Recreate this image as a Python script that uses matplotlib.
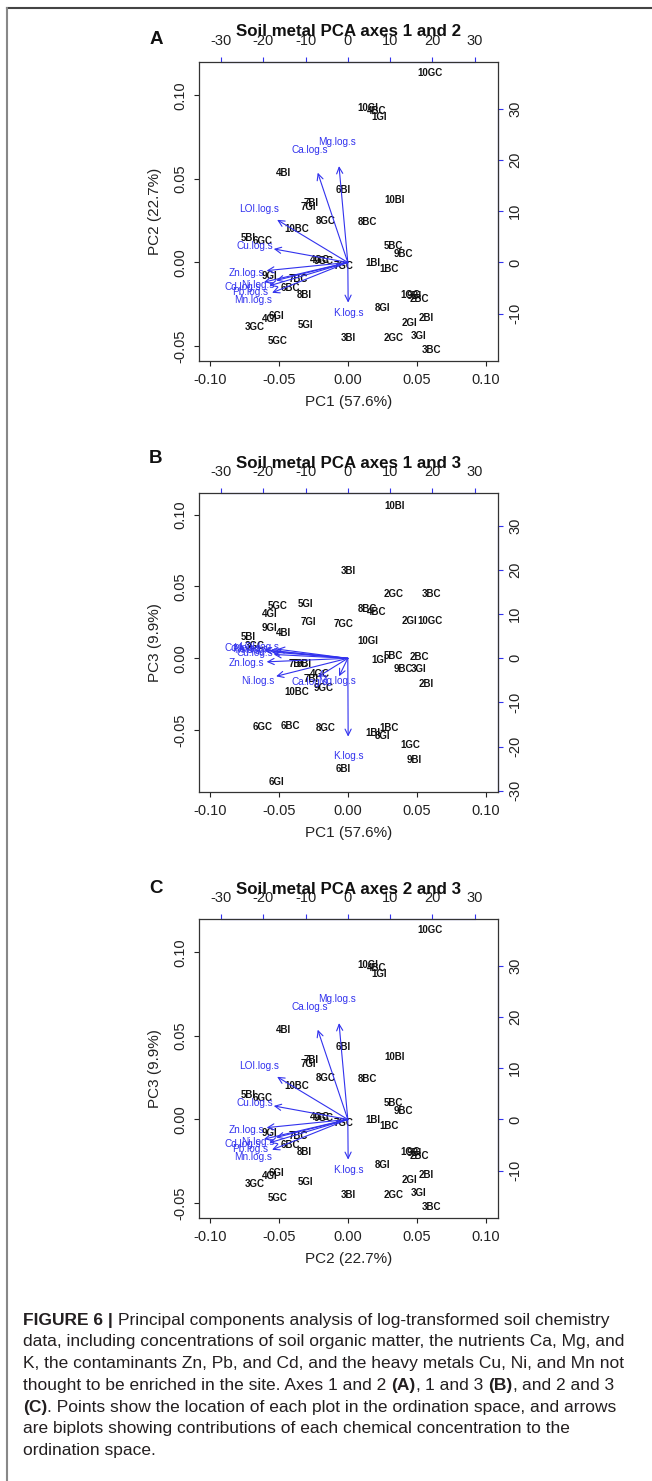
import matplotlib
matplotlib.use('Agg')
import matplotlib.pyplot as plt
from matplotlib.lines import Line2D

plt.rcParams['font.family'] = ['Liberation Sans', 'DejaVu Sans']
plt.rcParams['axes.unicode_minus'] = False

# site scores (PC1, PC2, PC3)
sites = ['1BC', '2BC', '3BC', '4BC', '5BC', '6BC', '7BC', '8BC', '9BC', '10BC',
         '1BI', '2BI', '3BI', '4BI', '5BI', '6BI', '7BI', '8BI', '9BI', '10BI',
         '1GC', '2GC', '3GC', '4GC', '5GC', '6GC', '7GC', '8GC', '9GC', '10GC',
         '1GI', '2GI', '3GI', '4GI', '5GI', '6GI', '7GI', '8GI', '9GI', '10GI']
pc1 = [0.0302, 0.0520, 0.0609, 0.0212, 0.0328, -0.0420, -0.0356, 0.0145, 0.0402, -0.0374,
       0.0180, 0.0568, 0.0000, -0.0470, -0.0720, -0.0030, -0.0266, -0.0317, 0.0480, 0.0342,
       0.0452, 0.0333, -0.0672, -0.0200, -0.0512, -0.0616, -0.0029, -0.0164, -0.0174, 0.0595,
       0.0230, 0.0447, 0.0516, -0.0570, -0.0308, -0.0515, -0.0283, 0.0254, -0.0570, 0.0145]
pc2 = [-0.0040, -0.0220, -0.0525, 0.0908, 0.0098, -0.0150, -0.0102, 0.0240, 0.0052, 0.0198,
       -0.0006, -0.0335, -0.0451, 0.0537, 0.0147, 0.0433, 0.0357, -0.0192, -0.0198, 0.0376,
       -0.0192, -0.0451, -0.0389, 0.0016, -0.0470, 0.0128, -0.0022, 0.0249, 0.0008, 0.1132,
       0.0868, -0.0365, -0.0441, -0.0341, -0.0375, -0.0320, 0.0329, -0.0275, -0.0082, 0.0922]
pc3 = [-0.0486, 0.0011, 0.0444, 0.0324, 0.0018, -0.0468, -0.0042, 0.0340, -0.0074, -0.0236,
       -0.0521, -0.0180, 0.0608, 0.0174, 0.0150, -0.0769, -0.0144, -0.0042, -0.0706, 0.1058,
       -0.0602, 0.0444, 0.0088, -0.0109, 0.0363, -0.0475, 0.0236, -0.0486, -0.0208, 0.0259,
       -0.0012, 0.0261, -0.0074, 0.0308, 0.0379, -0.0857, 0.0254, -0.0537, 0.0213, 0.0120]

# variable loadings (top/right axis units)
variables = ['LOI.log.s', 'Ca.log.s', 'Mg.log.s', 'K.log.s', 'Zn.log.s',
             'Pb.log.s', 'Cd.log.s', 'Cu.log.s', 'Ni.log.s', 'Mn.log.s']
load1 = [-20.9, -8.9, -2.6, 0.1, -24.0, -23.2, -24.8, -21.9, -21.2, -22.4]
load2 = [10.4, 21.9, 23.5, -9.8, -2.0, -5.7, -4.8, 3.3, -4.4, -7.4]
load3 = [2.6, -5.3, -5.1, -22.2, -1.0, 2.2, 2.4, 1.1, -5.1, 1.8]

letters = ['A', 'B', 'C']
titles = ['Soil metal PCA axes 1 and 2', 'Soil metal PCA axes 1 and 3',
          'Soil metal PCA axes 2 and 3']
xlabels = ['PC1 (57.6%)', 'PC1 (57.6%)', 'PC2 (22.7%)']
ylabels = ['PC2 (22.7%)', 'PC3 (9.9%)', 'PC3 (9.9%)']
# panel C in the figure repeats the axis 1/2 scores
xdata = [(pc1, load1), (pc1, load1), (pc1, load1)]
ydata = [(pc2, load2), (pc3, load3), (pc2, load2)]

xticks = [-0.10, -0.05, 0.00, 0.05, 0.10]
yticks = [[-0.05, 0.00, 0.05, 0.10], [-0.05, 0.00, 0.05, 0.10], [-0.05, 0.00, 0.05, 0.10]]
topticks = [-30, -20, -10, 0, 10, 20, 30]
rightticks = [[-10, 0, 10, 20, 30], [-30, -20, -10, 0, 10, 20, 30], [-10, 0, 10, 20, 30]]

W, H = 652, 1481
S = 326.0
BLUE = '#3232ee'
box_top = [62, 493, 919]
box_h = 299
ylims = [(-0.059, 0.120), (-0.093, 0.115), (-0.059, 0.120)]
letter_y = [40, 459, 889]

fig = plt.figure(figsize=(W / 100, H / 100), dpi=100)

for i in range(3):
    ax = fig.add_axes([199 / W, 1 - (box_top[i] + box_h) / H, 299 / W, box_h / H])
    ax.set_xlim(-0.108, 0.109)
    ax.set_ylim(*ylims[i])
    xs, lx = xdata[i]
    ys, ly = ydata[i]

    for s, x, y in zip(sites, xs, ys):
        ax.text(x, y, s, ha='center', va='center', fontsize=7, fontweight='bold', color='#111111')

    for v, a, b in zip(variables, lx, ly):
        ax.annotate('', xy=(0.8 * a / S, 0.8 * b / S), xytext=(0, 0),
                    arrowprops=dict(arrowstyle='->,head_length=0.45,head_width=0.22',
                                    color=BLUE, lw=0.8, shrinkA=0, shrinkB=0))
        ax.text(a / S, b / S, v, ha='center', va='center', fontsize=7.2, color=BLUE)

    ax.set_xticks(xticks, ['%.2f' % t for t in xticks])
    ax.set_yticks(yticks[i], ['%.2f' % t for t in yticks[i]], rotation=90, va='center')
    ax.tick_params(direction='out', length=3.3, width=0.8, labelsize=10.5, pad=5, colors='#222222')
    for sp in ax.spines.values():
        sp.set_linewidth(0.9)
        sp.set_color('#333333')

    top = ax.secondary_xaxis('top', functions=(lambda v: v * S, lambda v: v / S))
    top.set_xticks(topticks, [str(t) for t in topticks])
    top.tick_params(direction='out', length=3.3, width=0.8, color=BLUE,
                    labelcolor='#222222', labelsize=10.5, pad=6.5)
    top.spines['top'].set_color(BLUE)
    top.spines['top'].set_bounds(-30, 30)

    right = ax.secondary_yaxis('right', functions=(lambda v: v * S, lambda v: v / S))
    right.set_yticks(rightticks[i], [str(t) for t in rightticks[i]], rotation=90, va='center')
    right.tick_params(direction='out', length=3.3, width=0.8, color=BLUE,
                      labelcolor='#222222', labelsize=10.5, pad=4)
    right.spines['right'].set_color(BLUE)
    right.spines['right'].set_bounds(rightticks[i][0], rightticks[i][-1])

    ax.text(0.5, 1 + 30 / box_h, titles[i], transform=ax.transAxes, ha='center', va='center',
            fontsize=12.2, fontweight='bold', color='#111111', zorder=5)
    ax.text(0.5, -40.7 / box_h, xlabels[i], transform=ax.transAxes, ha='center', va='center',
            fontsize=11, color='#222222')
    ax.text(-44 / 299, 0.5, ylabels[i], transform=ax.transAxes, ha='center', va='center',
            rotation=90, fontsize=11, color='#222222')
    fig.text(156 / W, 1 - letter_y[i] / H, letters[i], ha='center', va='center',
             fontsize=13.5, fontweight='bold', color='#111111')

# page frame
fig.add_artist(Line2D([7 / W, 1], [1 - 8 / H, 1 - 8 / H], transform=fig.transFigure,
                      color='#444444', lw=1.5))
fig.add_artist(Line2D([7 / W, 7 / W], [0, 1 - 8 / H], transform=fig.transFigure,
                      color='#888888', lw=1.5))

# caption
cap = fig.add_axes([0, 0, 1, 1])
cap.axis('off')
cap.set_xlim(0, W)
cap.set_ylim(H, 0)
CAP_FS = 12.5
GAP = 0.278 * CAP_FS
caption = [
    [('FIGURE 6 |', True, False), ('Principal components analysis of log-transformed soil chemistry', False, True)],
    [('data, including concentrations of soil organic matter, the nutrients Ca, Mg, and', False, False)],
    [('K, the contaminants Zn, Pb, and Cd, and the heavy metals Cu, Ni, and Mn not', False, False)],
    [('thought to be enriched in the site. Axes 1 and 2', False, False), ('(A)', True, True),
     (',', False, False), ('1 and 3', False, True), ('(B)', True, True), (',', False, False),
     ('and 2 and 3', False, True)],
    [('(C)', True, False), ('. Points show the location of each plot in the ordination space, and arrows', False, False)],
    [('are biplots showing contributions of each chemical concentration to the', False, False)],
    [('ordination space.', False, False)],
]
line_y = [1320, 1341.8, 1363.6, 1385.4, 1407.2, 1429, 1450.8]
for y, pieces in zip(line_y, caption):
    prev = None
    for txt, bold, space in pieces:
        kw = dict(fontsize=CAP_FS, fontweight='bold' if bold else 'normal',
                  color='#231f20', ha='left', va='center')
        if prev is None:
            prev = cap.text(23, y, txt, **kw)
        else:
            prev = cap.annotate(txt, xy=(1, 0.5), xycoords=prev,
                                xytext=(GAP if space else 0, 0), textcoords='offset points', **kw)

fig.savefig('out.png', dpi=100)
